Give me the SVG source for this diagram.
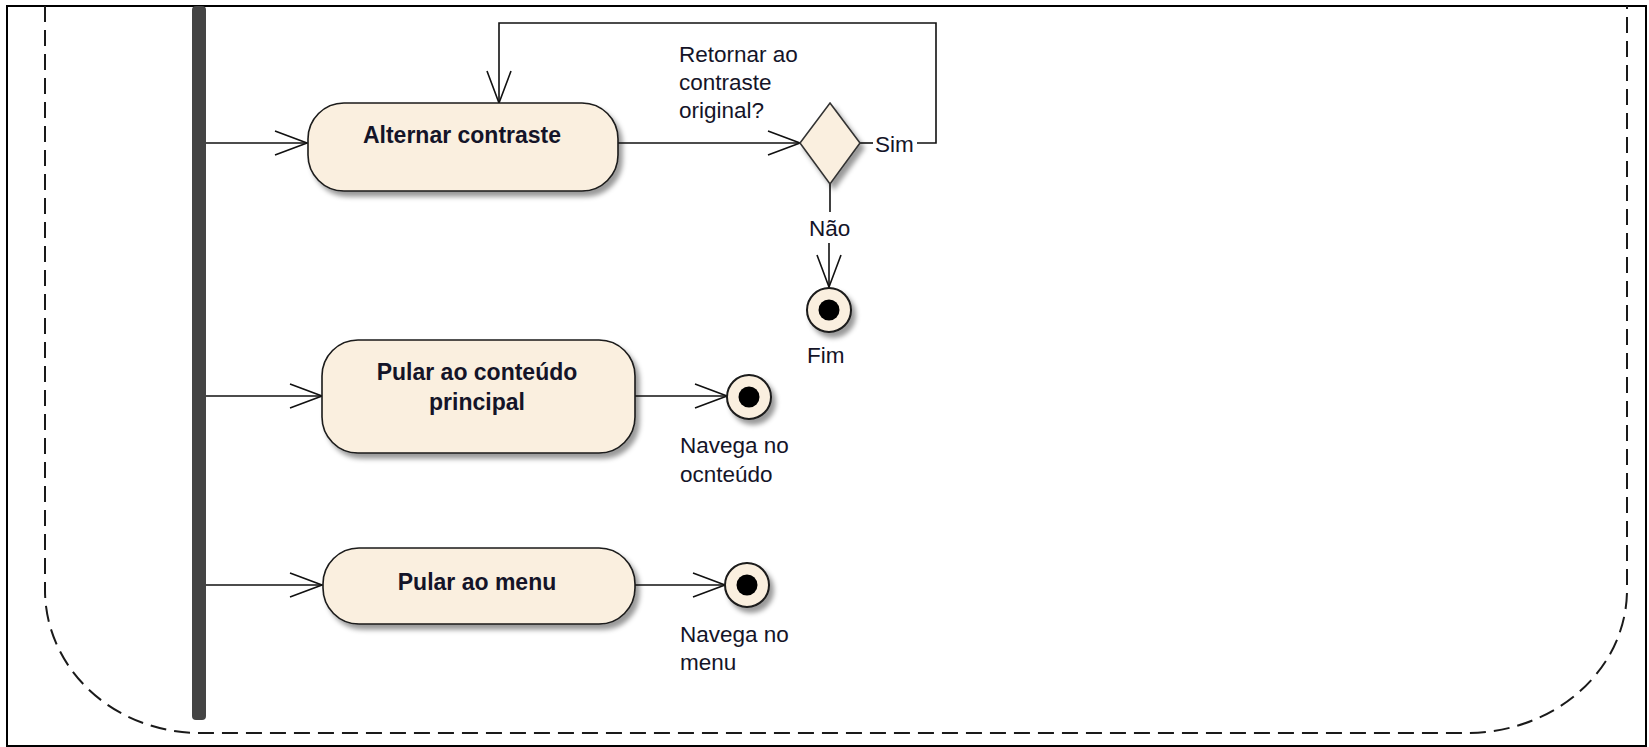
<svg xmlns="http://www.w3.org/2000/svg" width="1649" height="747" viewBox="0 0 1649 747">
  <style>
    .frame { fill: #ffffff; stroke: #000000; stroke-width: 2; }
    .region { fill: none; stroke: #1a1a1a; stroke-width: 2; stroke-dasharray: 16 8; }
    .action { fill: #FAEFDF; stroke: #1a1a1a; stroke-width: 1.6; }
    .decision { fill: #FAEFDF; stroke: #333333; stroke-width: 1.6; }
    .final-outer { fill: #FAEFDF; stroke: #1a1a1a; stroke-width: 2; }
    .final-inner { fill: #000000; }
    .bar { fill: #444444; }
    .edge { fill: none; stroke: #111111; stroke-width: 1.6; }
    .lbl { font-family: "Liberation Sans", Arial, sans-serif; font-size: 22.5px; fill: #141428; }
    .act { font-family: "Liberation Sans", Arial, sans-serif; font-size: 23px; font-weight: bold; fill: #141428; text-anchor: middle; }
  </style>
  <defs>
    <marker id="open" markerUnits="userSpaceOnUse" viewBox="0 0 34 26" markerWidth="34" markerHeight="26" refX="33" refY="13" orient="auto">
      <path d="M1,1 L33,13 L1,25" fill="none" stroke="#111111" stroke-width="1.6"/>
    </marker>
    <filter id="shadow" x="-20%" y="-20%" width="150%" height="160%">
      <feGaussianBlur in="SourceAlpha" stdDeviation="2.5"/>
      <feOffset dx="4" dy="5" result="b"/>
      <feFlood flood-color="#000000" flood-opacity="0.4"/>
      <feComposite in2="b" operator="in"/>
      <feMerge>
        <feMergeNode/>
        <feMergeNode in="SourceGraphic"/>
      </feMerge>
    </filter>
  </defs>

  <rect class="frame" x="7" y="6" width="1639" height="740"/>
  <path class="region" d="M45 6 V590 A155 143 0 0 0 200 733 H1467 A160 143 0 0 0 1627 590 V6"/>

  <g id="fork-bar">
    <rect class="bar" x="192" y="6" width="14" height="714" rx="4"/>
  </g>

  <g id="connectors">
    <path class="edge" d="M206 143 H307" marker-end="url(#open)"/>
    <path class="edge" d="M618 143 H800" marker-end="url(#open)"/>
    <path class="edge" d="M860 143 H873"/>
    <path class="edge" d="M917 143 H936 V23 H499 V103" marker-end="url(#open)"/>
    <path class="edge" d="M830 184 V212"/>
    <path class="edge" d="M829 243 V287" marker-end="url(#open)"/>
    <path class="edge" d="M206 396 H322" marker-end="url(#open)"/>
    <path class="edge" d="M635 396 H727" marker-end="url(#open)"/>
    <path class="edge" d="M206 585 H322" marker-end="url(#open)"/>
    <path class="edge" d="M635 585 H725" marker-end="url(#open)"/>
    <text class="lbl" x="875" y="152">Sim</text>
    <text class="lbl" x="809" y="236">Não</text>
    <text class="lbl" x="679" y="62">Retornar ao</text>
    <text class="lbl" x="679" y="90">contraste</text>
    <text class="lbl" x="679" y="118">original?</text>
  </g>

  <g id="alternar-contraste">
    <rect class="action" x="308" y="103" width="310" height="88" rx="36" filter="url(#shadow)"/>
    <text class="act" x="462" y="143">Alternar contraste</text>
  </g>

  <g id="decisao-contraste">
    <polygon class="decision" points="830,103 860,143 830,184 800,143" filter="url(#shadow)"/>
  </g>

  <g id="fim">
    <circle class="final-outer" cx="829" cy="310" r="22" filter="url(#shadow)"/>
    <circle class="final-inner" cx="829" cy="310" r="10.5"/>
    <text class="lbl" x="807" y="363">Fim</text>
  </g>

  <g id="pular-conteudo">
    <rect class="action" x="322" y="340" width="313" height="113" rx="36" filter="url(#shadow)"/>
    <text class="act" x="477" y="380">Pular ao conteúdo</text>
    <text class="act" x="477" y="410">principal</text>
  </g>

  <g id="fim-conteudo">
    <circle class="final-outer" cx="749" cy="397" r="22" filter="url(#shadow)"/>
    <circle class="final-inner" cx="749" cy="397" r="10.5"/>
    <text class="lbl" x="680" y="453">Navega no</text>
    <text class="lbl" x="680" y="482">ocnteúdo</text>
  </g>

  <g id="pular-menu">
    <rect class="action" x="323" y="548" width="312" height="76" rx="36" filter="url(#shadow)"/>
    <text class="act" x="477" y="590">Pular ao menu</text>
  </g>

  <g id="fim-menu">
    <circle class="final-outer" cx="747" cy="585" r="22" filter="url(#shadow)"/>
    <circle class="final-inner" cx="747" cy="585" r="10.5"/>
    <text class="lbl" x="680" y="642">Navega no</text>
    <text class="lbl" x="680" y="670">menu</text>
  </g>
</svg>
